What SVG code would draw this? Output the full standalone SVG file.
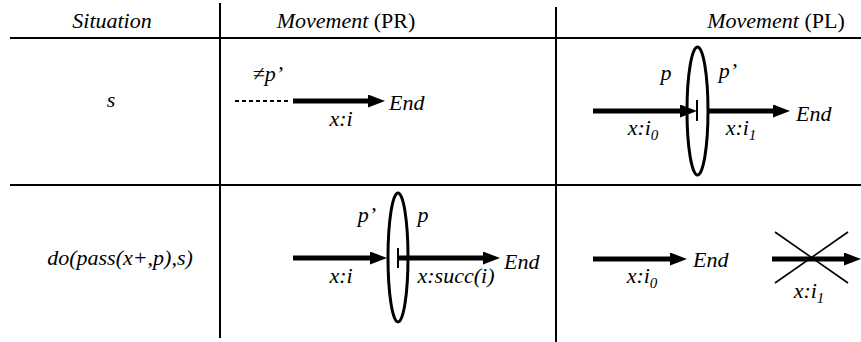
<svg xmlns="http://www.w3.org/2000/svg" width="861" height="342" viewBox="0 0 861 342">
<defs>
<marker id="ah" markerUnits="userSpaceOnUse" markerWidth="17" markerHeight="13" refX="7" refY="6.5" orient="auto">
<path d="M0,0 L17,6.5 L0,13 Z" fill="#000"/>
</marker>
</defs>
<rect width="861" height="342" fill="#fff"/>
<g id="table" stroke="#000" stroke-width="2" fill="none">
<line x1="220" y1="3" x2="220" y2="338"/>
<line x1="556" y1="7" x2="556" y2="342"/>
<line x1="10" y1="38" x2="861" y2="38"/>
<line x1="10" y1="185" x2="861" y2="185"/>
</g>
<g id="headers">
<text x="112" y="28" text-anchor="middle" font-family="Liberation Serif" font-size="22" font-style="italic">Situation</text>
<text x="346" y="28" text-anchor="middle" font-family="Liberation Serif" font-size="22"><tspan font-style="italic">Movement</tspan> (PR)</text>
<text x="776" y="28" text-anchor="middle" font-family="Liberation Serif" font-size="22"><tspan font-style="italic">Movement</tspan> (PL)</text>
</g>
<g id="situations">
<text x="111" y="107" text-anchor="middle" font-family="Liberation Serif" font-size="22" font-style="italic">s</text>
<text x="120" y="265" text-anchor="middle" font-family="Liberation Serif" font-size="22" font-style="italic">do(pass(x+,p),s)</text>
</g>
<g id="connectors" stroke="#000" fill="none">
<line x1="235" y1="101" x2="290" y2="101" stroke-width="2" stroke-dasharray="4 3"/>
<g stroke-width="5" marker-end="url(#ah)">
<line x1="293" y1="101" x2="375" y2="101"/>
<line x1="593" y1="111" x2="687" y2="111"/>
<line x1="708" y1="111" x2="780" y2="111"/>
<line x1="293" y1="258" x2="377" y2="258"/>
<line x1="398" y1="258" x2="490" y2="258"/>
<line x1="593" y1="259" x2="677" y2="259"/>
<line x1="772" y1="259" x2="851" y2="259"/>
</g>
<g stroke-width="1.6">
<line x1="775" y1="232" x2="848" y2="283"/>
<line x1="775" y1="283" x2="848" y2="232"/>
</g>
</g>
<g id="pr-s">
<text x="268" y="81" text-anchor="middle" font-family="Liberation Serif" font-size="22" font-style="italic">≠p’</text>
<text x="341" y="126" text-anchor="middle" font-family="Liberation Serif" font-size="22" font-style="italic">x:i</text>
<text x="389" y="110" font-family="Liberation Serif" font-size="22" font-style="italic">End</text>
</g>
<g id="pl-s">
<ellipse cx="697.5" cy="111" rx="10.5" ry="64" stroke="#000" stroke-width="3" fill="none"/>
<line x1="697" y1="100" x2="697" y2="121" stroke="#000" stroke-width="2"/>
<text x="666" y="80" text-anchor="middle" font-family="Liberation Serif" font-size="22" font-style="italic">p</text>
<text x="728" y="78" text-anchor="middle" font-family="Liberation Serif" font-size="22" font-style="italic">p’</text>
<text x="643" y="135" text-anchor="middle" font-family="Liberation Serif" font-size="22" font-style="italic">x:i<tspan font-size="15" dy="5">0</tspan></text>
<text x="741" y="135" text-anchor="middle" font-family="Liberation Serif" font-size="22" font-style="italic">x:i<tspan font-size="15" dy="5">1</tspan></text>
<text x="796" y="121" font-family="Liberation Serif" font-size="22" font-style="italic">End</text>
</g>
<g id="pr-do">
<ellipse cx="398" cy="257.5" rx="10" ry="64.5" stroke="#000" stroke-width="3" fill="none"/>
<line x1="398" y1="248" x2="398" y2="268" stroke="#000" stroke-width="2"/>
<text x="367" y="222" text-anchor="middle" font-family="Liberation Serif" font-size="22" font-style="italic">p’</text>
<text x="423" y="222" text-anchor="middle" font-family="Liberation Serif" font-size="22" font-style="italic">p</text>
<text x="341" y="283" text-anchor="middle" font-family="Liberation Serif" font-size="22" font-style="italic">x:i</text>
<text x="456" y="283" text-anchor="middle" font-family="Liberation Serif" font-size="22" font-style="italic">x:succ(i)</text>
<text x="504" y="269" font-family="Liberation Serif" font-size="22" font-style="italic">End</text>
</g>
<g id="pl-do">
<text x="642" y="283" text-anchor="middle" font-family="Liberation Serif" font-size="22" font-style="italic">x:i<tspan font-size="15" dy="5">0</tspan></text>
<text x="693" y="267" font-family="Liberation Serif" font-size="22" font-style="italic">End</text>
<text x="809" y="298" text-anchor="middle" font-family="Liberation Serif" font-size="22" font-style="italic">x:i<tspan font-size="15" dy="5">1</tspan></text>
</g>
</svg>
